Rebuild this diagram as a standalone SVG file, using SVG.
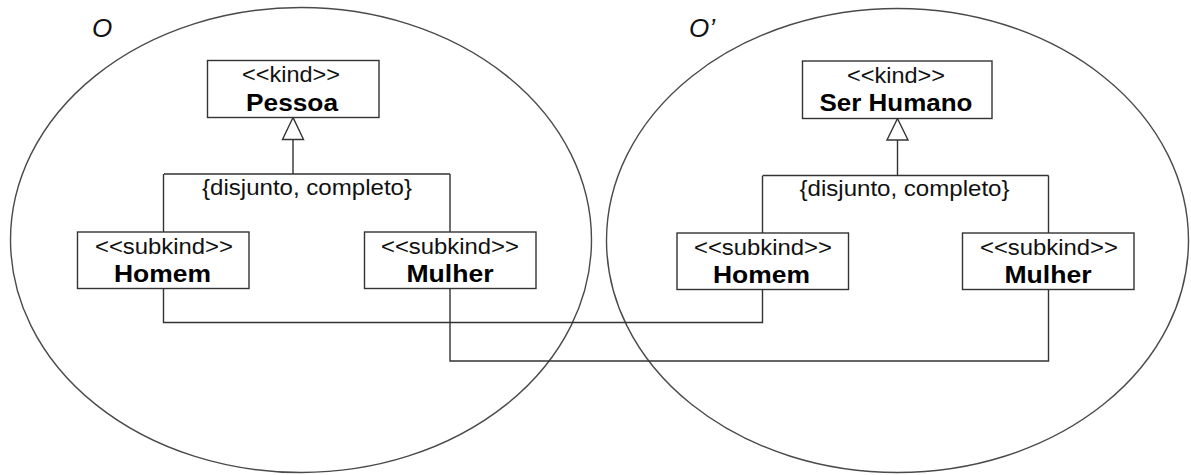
<svg xmlns="http://www.w3.org/2000/svg" width="1191" height="475" viewBox="0 0 1191 475">
  <style>
    .ont { fill: none; stroke: #4a4a4a; stroke-width: 1.4; }
    .box { fill: #ffffff; stroke: #333333; stroke-width: 1.4; }
    .wire { fill: none; stroke: #333333; stroke-width: 1.4; }
    .head { fill: #ffffff; stroke: #333333; stroke-width: 1.4; stroke-linejoin: miter; }
    .st { font-family: "Liberation Sans", Arial, sans-serif; font-size: 22px; fill: #111111; text-anchor: middle; }
    .nm { font-family: "Liberation Sans", Arial, sans-serif; font-size: 23px; font-weight: bold; fill: #000000; text-anchor: middle; }
    .lbl { font-family: "Liberation Sans", Arial, sans-serif; font-size: 26px; font-style: italic; fill: #111111; }
  </style>
  <rect width="1191" height="475" fill="#ffffff"/>

  <!-- ontology boundaries -->
  <g id="ontology-O">
    <ellipse class="ont" cx="301" cy="240" rx="290.5" ry="232.5"/>
    <text class="lbl" x="92" y="37">O</text>
  </g>
  <g id="ontology-O-prime">
    <ellipse class="ont" cx="897.5" cy="240.5" rx="291" ry="232"/>
    <text class="lbl" x="689" y="37">O’</text>
  </g>

  <!-- generalization sets and cross-ontology links -->
  <g id="connectors">
    <!-- O: Pessoa generalization -->
    <path class="wire" d="M293 139.5 V174 M164 174 H450 M163.5 174 V232 M450 174 V232"/>
    <polygon class="head" points="293,117.5 282.5,139.5 303.5,139.5"/>
    <text class="st" x="307" y="195" textLength="210" lengthAdjust="spacingAndGlyphs">{disjunto, completo}</text>
    <!-- O': Ser Humano generalization -->
    <path class="wire" d="M897.5 140 V175.5 M763 175.5 H1048.5 M762.5 175.5 V233 M1048.5 175.5 V233"/>
    <polygon class="head" points="897.5,118.5 887,140 908,140"/>
    <text class="st" x="904.5" y="196" textLength="210" lengthAdjust="spacingAndGlyphs">{disjunto, completo}</text>
    <!-- Homem ↔ Homem -->
    <path class="wire" d="M163.5 288.5 V322.5 H762.5 V289.5"/>
    <!-- Mulher ↔ Mulher -->
    <path class="wire" d="M450 288.5 V361 H1048.5 V289.5"/>
  </g>

  <!-- classes in O -->
  <g id="pessoa">
    <rect class="box" x="207.5" y="60.5" width="171.5" height="57"/>
    <text class="st" x="291" y="82" textLength="98" lengthAdjust="spacingAndGlyphs">&lt;&lt;kind&gt;&gt;</text>
    <text class="nm" x="292" y="110.5" textLength="92" lengthAdjust="spacingAndGlyphs">Pessoa</text>
  </g>
  <g id="homem-o">
    <rect class="box" x="77.5" y="232" width="171.5" height="56.5"/>
    <text class="st" x="164" y="253.5" textLength="138" lengthAdjust="spacingAndGlyphs">&lt;&lt;subkind&gt;&gt;</text>
    <text class="nm" x="162.5" y="282" textLength="97" lengthAdjust="spacingAndGlyphs">Homem</text>
  </g>
  <g id="mulher-o">
    <rect class="box" x="364.5" y="232" width="171.5" height="56.5"/>
    <text class="st" x="450" y="253.5" textLength="138" lengthAdjust="spacingAndGlyphs">&lt;&lt;subkind&gt;&gt;</text>
    <text class="nm" x="450" y="282" textLength="87" lengthAdjust="spacingAndGlyphs">Mulher</text>
  </g>

  <!-- classes in O' -->
  <g id="ser-humano">
    <rect class="box" x="802.5" y="61" width="189.5" height="57.5"/>
    <text class="st" x="896" y="82.5" textLength="98" lengthAdjust="spacingAndGlyphs">&lt;&lt;kind&gt;&gt;</text>
    <text class="nm" x="896" y="111" textLength="153" lengthAdjust="spacingAndGlyphs">Ser Humano</text>
  </g>
  <g id="homem-o-prime">
    <rect class="box" x="677" y="233" width="171.5" height="56.5"/>
    <text class="st" x="763" y="254.5" textLength="138" lengthAdjust="spacingAndGlyphs">&lt;&lt;subkind&gt;&gt;</text>
    <text class="nm" x="761.5" y="282.5" textLength="97" lengthAdjust="spacingAndGlyphs">Homem</text>
  </g>
  <g id="mulher-o-prime">
    <rect class="box" x="962.5" y="233" width="171.5" height="56.5"/>
    <text class="st" x="1049" y="254.5" textLength="138" lengthAdjust="spacingAndGlyphs">&lt;&lt;subkind&gt;&gt;</text>
    <text class="nm" x="1048" y="282.5" textLength="87" lengthAdjust="spacingAndGlyphs">Mulher</text>
  </g>
</svg>
